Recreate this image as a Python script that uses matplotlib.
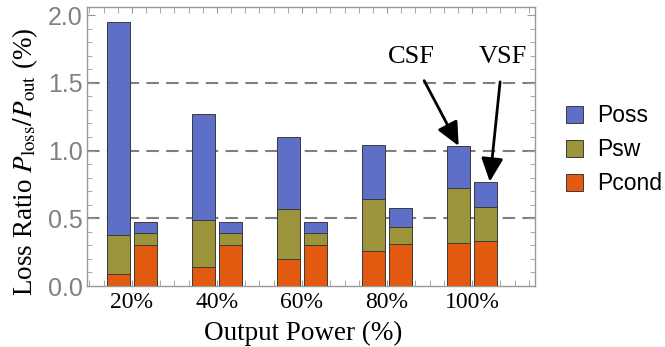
import numpy as np
import matplotlib
matplotlib.use('Agg')
import matplotlib.pyplot as plt
from matplotlib.ticker import MultipleLocator

# Loss breakdown per output power level (% of output power)
power_labels = ['20%', '40%', '60%', '80%', '100%']

csf_cond = [0.09, 0.14, 0.20, 0.256, 0.315]
csf_sw = [0.29, 0.345, 0.37, 0.389, 0.405]
csf_oss = [1.57, 0.785, 0.53, 0.395, 0.314]

vsf_cond = [0.30, 0.30, 0.30, 0.308, 0.332]
vsf_sw = [0.09, 0.09, 0.09, 0.125, 0.248]
vsf_oss = [0.08, 0.08, 0.08, 0.143, 0.19]

c_oss = '#5d6fc6'
c_sw = '#9b943a'
c_cond = '#e25a10'
edge = '#3a3a3a'

plt.rcParams['font.family'] = ['Liberation Serif', 'DejaVu Serif']
plt.rcParams['mathtext.fontset'] = 'stix'

fig = plt.figure(figsize=(6.65, 3.47), dpi=100)
ax = fig.add_axes([87 / 665, 1 - 286 / 347, 448 / 665, 279.5 / 347])

x = np.arange(len(power_labels))
w = 0.27
off = 0.158


def stack(xpos, cond, sw, oss, label=False):
    cond = np.array(cond)
    sw = np.array(sw)
    oss = np.array(oss)
    kw = dict(width=w, edgecolor=edge, linewidth=0.7, zorder=3)
    ax.bar(xpos, cond, color=c_cond, label='Pcond' if label else None, **kw)
    ax.bar(xpos, sw, bottom=cond, color=c_sw, label='Psw' if label else None, **kw)
    ax.bar(xpos, oss, bottom=cond + sw, color=c_oss, label='Poss' if label else None, **kw)
    return cond + sw + oss


csf_top = stack(x - off, csf_cond, csf_sw, csf_oss, label=True)
vsf_top = stack(x + off, vsf_cond, vsf_sw, vsf_oss)

# dashed reference lines
for yv in [0.5, 1.0, 1.5]:
    ax.axhline(yv, color='#7f7f7f', linestyle=(0, (6, 3.5)), linewidth=1.5, zorder=1)

ax.set_xlim(-0.528, 4.74)
ax.set_ylim(0, 2.063)

ax.set_xticks(x)
ax.set_xticklabels(power_labels, fontsize=17)
ax.xaxis.set_minor_locator(MultipleLocator(1 / 6))
ax.set_yticks([0.0, 0.5, 1.0, 1.5, 2.0])
ax.set_yticklabels(['0.0', '0.5', '1.0', '1.5', '2.0'], family='Liberation Sans',
                   fontsize=18, color='#808080')
ax.yaxis.set_minor_locator(MultipleLocator(0.1))

ax.tick_params(which='both', direction='in', top=True, right=True, color='#999999')
ax.tick_params(axis='x', which='major', length=4, pad=4)
ax.tick_params(axis='x', which='minor', length=4)
ax.tick_params(axis='y', which='major', length=6, pad=3)
ax.tick_params(axis='y', which='minor', length=3.5)
for s in ax.spines.values():
    s.set_color('#999999')
    s.set_linewidth(1.0)

ax.set_xlabel('Output Power (%)', fontsize=19.5, labelpad=0)
ax.xaxis.set_label_coords(0.482, -0.125)
ax.set_ylabel(r'Loss Ratio $P_{\mathrm{loss}}/P_{\mathrm{out}}$ (%)', fontsize=19.5)
ax.yaxis.set_label_coords(-0.105, 0.444)

# arrows pointing at the 100% bars
arrow = dict(arrowstyle='-|>,head_length=0.75,head_width=0.35', color='black', lw=2,
             shrinkA=8, shrinkB=0)
ax.annotate('CSF', xy=(x[4] - off, csf_top[4]), xytext=(3.29, 1.69),
            fontsize=19, ha='center', va='center', arrowprops=arrow)
ax.annotate('VSF', xy=(x[4] + off + 0.05, vsf_top[4]), xytext=(4.36, 1.69),
            fontsize=19, ha='center', va='center', arrowprops=arrow)

handles, labels = ax.get_legend_handles_labels()
order = [2, 1, 0]
fig.legend([handles[i] for i in order], [labels[i] for i in order],
           loc='center left', bbox_to_anchor=(566 / 665, 1 - 150 / 347),
           frameon=False, borderpad=0, borderaxespad=0,
           prop={'family': 'Liberation Sans', 'size': 16.5},
           handlelength=0.72, handleheight=0.72, handletextpad=0.62, labelspacing=0.48)

fig.savefig('out.png', dpi=100)
